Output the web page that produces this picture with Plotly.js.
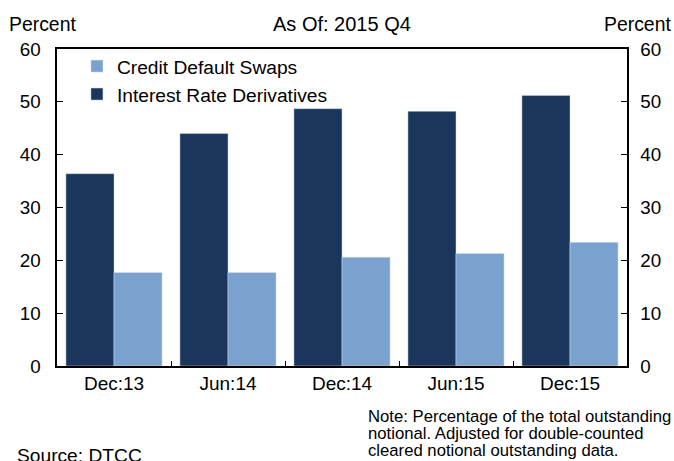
<!DOCTYPE html>
<html><head><meta charset="utf-8">
<script src="https://cdn.plot.ly/plotly-3.0.1.min.js"></script>
<style>html,body{margin:0;padding:0;background:#fff}#chart{width:674px;height:461px}</style>
</head><body><div id="chart"></div>
<script>
const categories = ["Dec:13", "Jun:14", "Dec:14", "Jun:15", "Dec:15"];
const interestRateDerivatives = [36.4, 44.0, 48.7, 48.2, 51.2];
const creditDefaultSwaps = [17.7, 17.7, 20.6, 21.3, 23.4];
const yTicks = [0, 10, 20, 30, 40, 50, 60];
const noteLines = [
  "Note: Percentage of the total outstanding",
  "notional. Adjusted for double-counted",
  "cleared notional outstanding data."
];

const fontFam = "Liberation Sans, Arial, sans-serif";
const traces = [
  {type: "bar", name: "Interest Rate Derivatives", x: categories, y: interestRateDerivatives,
   marker: {color: "#1B365D", line: {color: "#c8d3e0", width: 0.5}}, legendrank: 2},
  {type: "bar", name: "Credit Default Swaps", x: categories, y: creditDefaultSwaps,
   marker: {color: "#7BA2CE", line: {color: "#d5e0ee", width: 0.5}}, legendrank: 1}
];
const annotations = [
  {text: "Percent", xref: "paper", yref: "paper", x: 0, y: 1, xshift: -50, yshift: 25,
   xanchor: "left", yanchor: "middle", showarrow: false, font: {size: 19.4}},
  {text: "Percent", xref: "paper", yref: "paper", x: 1, y: 1, xshift: 46, yshift: 25,
   xanchor: "right", yanchor: "middle", showarrow: false, font: {size: 19.4}},
  {text: "As Of: 2015 Q4", xref: "paper", yref: "paper", x: 0.5, y: 1, xshift: 0, yshift: 25,
   xanchor: "center", yanchor: "middle", showarrow: false, font: {size: 20}},
  {text: "Source: DTCC", xref: "paper", yref: "paper", x: 0, y: 0, xshift: -42, yshift: -89,
   xanchor: "left", yanchor: "middle", showarrow: false, font: {size: 19.2}}
];
noteLines.forEach(function (line, i) {
  annotations.push({text: line, xref: "paper", yref: "paper", x: 0, y: 0,
    xshift: 309, yshift: -50 - 17.4 * i, xanchor: "left", yanchor: "middle",
    showarrow: false, font: {size: 16.7}});
});
const layout = {
  width: 674, height: 461,
  margin: {l: 57, r: 47, t: 49, b: 95},
  paper_bgcolor: "#fff", plot_bgcolor: "#fff",
  font: {family: fontFam, size: 19, color: "#000"},
  barmode: "group", bargap: 0.157, bargroupgap: 0,
  showlegend: true,
  legend: {x: 0.035, y: 1.006, xanchor: "left", yanchor: "top", bgcolor: "rgba(0,0,0,0)",
           font: {size: 19.2}, itemwidth: 30, tracegroupgap: 0},
  xaxis: {type: "category", showline: true, linecolor: "#000", linewidth: 1.6, mirror: true,
          ticks: "inside", tickson: "boundaries", ticklen: 5, tickcolor: "#000",
          showgrid: false, zeroline: false, tickfont: {size: 19}},
  yaxis: {range: [0, 60], tickvals: yTicks, showline: true, linecolor: "#000", linewidth: 1.6,
          ticks: "inside", ticklen: 6, tickcolor: "#000", showgrid: false, zeroline: false,
          tickfont: {size: 18.8}, ticklabelstandoff: 11},
  yaxis2: {range: [0, 60], tickvals: yTicks, overlaying: "y", side: "right", showline: true,
           linecolor: "#000", linewidth: 1.6, ticks: "inside", ticklen: 6, tickcolor: "#000",
           showgrid: false, zeroline: false, tickfont: {size: 18.8}, ticklabelstandoff: 8},
  annotations: annotations
};
// invisible anchor so the right axis is drawn
traces.push({type: "scatter", x: [categories[0]], y: [0], yaxis: "y2", mode: "markers",
             marker: {opacity: 0}, showlegend: false, hoverinfo: "skip"});
Plotly.newPlot("chart", traces, layout, {staticPlot: true, displayModeBar: false});
</script></body></html>
